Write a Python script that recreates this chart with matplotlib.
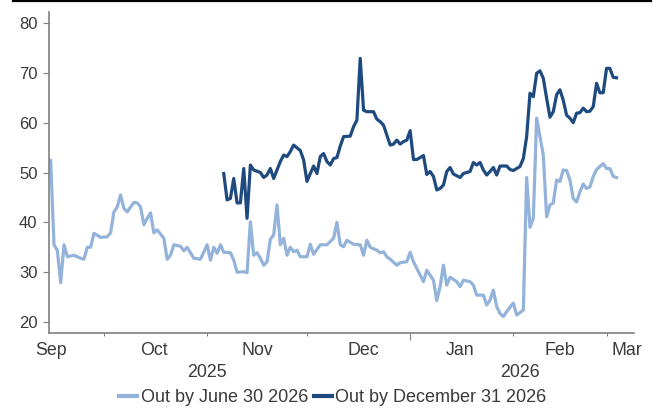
import pandas as pd
import matplotlib
matplotlib.use("Agg")
import matplotlib.pyplot as plt
from matplotlib.lines import Line2D

# Series data (daily readings)
june_dates = [
    "2025-09-15", "2025-09-16", "2025-09-17", "2025-09-18", "2025-09-19", "2025-09-20",
    "2025-09-22", "2025-09-23", "2025-09-24", "2025-09-25", "2025-09-26", "2025-09-27",
    "2025-09-28", "2025-09-30", "2025-10-02", "2025-10-03", "2025-10-04", "2025-10-05",
    "2025-10-06", "2025-10-07", "2025-10-08", "2025-10-10", "2025-10-11", "2025-10-12",
    "2025-10-13", "2025-10-14", "2025-10-15", "2025-10-16", "2025-10-17", "2025-10-19",
    "2025-10-20", "2025-10-21", "2025-10-22", "2025-10-24", "2025-10-25", "2025-10-26",
    "2025-10-28", "2025-10-30", "2025-11-01", "2025-11-02", "2025-11-03", "2025-11-04",
    "2025-11-05", "2025-11-06", "2025-11-08", "2025-11-09", "2025-11-10", "2025-11-12",
    "2025-11-13", "2025-11-14", "2025-11-15", "2025-11-16", "2025-11-17", "2025-11-18",
    "2025-11-19", "2025-11-20", "2025-11-21", "2025-11-22", "2025-11-23", "2025-11-24",
    "2025-11-25", "2025-11-26", "2025-11-27", "2025-11-28", "2025-11-29", "2025-12-01",
    "2025-12-02", "2025-12-03", "2025-12-05", "2025-12-07", "2025-12-09", "2025-12-10",
    "2025-12-11", "2025-12-12", "2025-12-13", "2025-12-15", "2025-12-17", "2025-12-18",
    "2025-12-19", "2025-12-20", "2025-12-22", "2025-12-23", "2025-12-24", "2025-12-25",
    "2025-12-26", "2025-12-28", "2025-12-29", "2025-12-31", "2026-01-01", "2026-01-02",
    "2026-01-04", "2026-01-05", "2026-01-06", "2026-01-07", "2026-01-08", "2026-01-09",
    "2026-01-10", "2026-01-11", "2026-01-12", "2026-01-13", "2026-01-15", "2026-01-16",
    "2026-01-17", "2026-01-19", "2026-01-20", "2026-01-21", "2026-01-23", "2026-01-24",
    "2026-01-25", "2026-01-26", "2026-01-27", "2026-01-28", "2026-01-29", "2026-01-30",
    "2026-02-01", "2026-02-02", "2026-02-04", "2026-02-05", "2026-02-06", "2026-02-07",
    "2026-02-08", "2026-02-09", "2026-02-10", "2026-02-11", "2026-02-12", "2026-02-13",
    "2026-02-14", "2026-02-15", "2026-02-16", "2026-02-17", "2026-02-18", "2026-02-19",
    "2026-02-20", "2026-02-21", "2026-02-22", "2026-02-23", "2026-02-24", "2026-02-25",
    "2026-02-26", "2026-02-28", "2026-03-01", "2026-03-02", "2026-03-03", "2026-03-04",
]
june_vals = [
    52.4, 35.5, 34.4, 27.9, 35.5, 33.1,
    33.4, 33.1, 32.8, 32.6, 35.0, 35.0,
    37.8, 37.0, 37.1, 37.9, 42.1, 43.1,
    45.5, 42.8, 42.1, 44.0, 43.9, 43.1,
    39.5, 40.8, 41.9, 37.9, 38.5, 36.8,
    32.6, 33.4, 35.5, 35.2, 34.3, 35.0,
    32.8, 32.6, 35.5, 32.4, 35.0, 33.8,
    35.5, 34.0, 33.9, 32.4, 30.0, 30.1,
    29.9, 40.1, 33.4, 33.9, 32.8, 31.4,
    32.1, 36.6, 37.5, 43.5, 35.5, 36.8,
    33.4, 35.0, 34.1, 34.4, 33.1, 33.1,
    35.6, 33.6, 35.5, 35.5, 36.8, 40.0,
    35.5, 35.1, 36.4, 35.6, 35.5, 33.4,
    36.4, 35.0, 34.4, 33.9, 34.1, 33.1,
    32.6, 31.4, 31.9, 32.1, 34.0, 32.1,
    29.4, 28.1, 30.4, 29.4, 28.4, 24.3,
    27.1, 31.4, 27.4, 29.0, 28.1, 27.1,
    28.4, 28.1, 27.4, 25.4, 25.4, 23.4,
    24.4, 26.4, 23.1, 21.7, 21.1, 22.1,
    23.8, 21.4, 22.4, 49.0, 39.0, 40.8,
    60.9, 57.2, 53.5, 41.1, 43.5, 43.9,
    48.5, 48.2, 50.5, 50.4, 48.5, 44.8,
    44.1, 46.1, 47.7, 46.8, 47.1, 49.2,
    50.6, 51.8, 50.8, 50.8, 49.2, 49.0,
]

dec_dates = [
    "2025-11-06", "2025-11-07", "2025-11-08", "2025-11-09", "2025-11-10", "2025-11-11",
    "2025-11-12", "2025-11-13", "2025-11-14", "2025-11-15", "2025-11-17", "2025-11-18",
    "2025-11-19", "2025-11-20", "2025-11-21", "2025-11-23", "2025-11-24", "2025-11-25",
    "2025-11-26", "2025-11-27", "2025-11-29", "2025-11-30", "2025-12-01", "2025-12-02",
    "2025-12-03", "2025-12-04", "2025-12-05", "2025-12-06", "2025-12-07", "2025-12-08",
    "2025-12-09", "2025-12-10", "2025-12-11", "2025-12-12", "2025-12-14", "2025-12-15",
    "2025-12-16", "2025-12-17", "2025-12-18", "2025-12-19", "2025-12-21", "2025-12-22",
    "2025-12-23", "2025-12-24", "2025-12-25", "2025-12-26", "2025-12-27", "2025-12-28",
    "2025-12-29", "2025-12-30", "2025-12-31", "2026-01-01", "2026-01-02", "2026-01-03",
    "2026-01-05", "2026-01-06", "2026-01-07", "2026-01-08", "2026-01-09", "2026-01-10",
    "2026-01-11", "2026-01-12", "2026-01-13", "2026-01-14", "2026-01-16", "2026-01-17",
    "2026-01-19", "2026-01-20", "2026-01-21", "2026-01-22", "2026-01-23", "2026-01-24",
    "2026-01-25", "2026-01-26", "2026-01-27", "2026-01-28", "2026-01-30", "2026-01-31",
    "2026-02-01", "2026-02-03", "2026-02-04", "2026-02-05", "2026-02-06", "2026-02-07",
    "2026-02-08", "2026-02-09", "2026-02-10", "2026-02-11", "2026-02-12", "2026-02-13",
    "2026-02-14", "2026-02-15", "2026-02-16", "2026-02-17", "2026-02-18", "2026-02-19",
    "2026-02-20", "2026-02-21", "2026-02-22", "2026-02-23", "2026-02-24", "2026-02-25",
    "2026-02-26", "2026-02-27", "2026-02-28", "2026-03-01", "2026-03-02", "2026-03-03",
    "2026-03-04",
]
dec_vals = [
    49.8, 44.5, 44.8, 48.8, 43.9, 43.9,
    50.8, 40.8, 51.5, 50.5, 50.0, 49.0,
    49.5, 50.8, 48.8, 52.2, 53.5, 53.2,
    54.2, 55.5, 54.4, 52.5, 48.2, 49.8,
    51.3, 49.8, 53.2, 53.8, 52.2, 51.5,
    52.8, 53.0, 55.3, 57.2, 57.3, 59.2,
    60.5, 72.9, 62.5, 62.2, 62.2, 60.7,
    60.2, 59.5, 57.5, 55.5, 55.7, 56.5,
    55.7, 56.2, 56.5, 58.4, 52.6, 52.6,
    53.4, 49.6, 50.2, 49.2, 46.5, 46.8,
    47.5, 50.2, 51.0, 49.7, 49.0, 49.8,
    50.2, 52.0, 51.5, 52.0, 50.5, 49.5,
    50.2, 51.0, 49.5, 51.3, 51.3, 50.6,
    50.4, 51.2, 52.8, 57.2, 65.9, 65.2,
    69.9, 70.4, 68.9, 64.9, 61.1, 62.2,
    65.6, 66.6, 64.5, 61.5, 60.9, 60.0,
    61.9, 62.0, 62.9, 62.2, 62.3, 63.2,
    67.9, 66.0, 66.0, 70.9, 70.9, 69.1,
    69.0,
]

series_names = ["Out by June 30 2026", "Out by December 31 2026"]
series_colors = ["#93b3db", "#1f4a80"]

month_starts = ["2025-10-01", "2025-11-01", "2025-12-01", "2026-01-01", "2026-02-01", "2026-03-01"]
month_names = ["Sep", "Oct", "Nov", "Dec", "Jan", "Feb", "Mar"]
month_label_at = ["2025-09-15", "2025-10-16", "2025-11-16", "2025-12-18", "2026-01-16", "2026-02-15", "2026-03-07"]
year_names = ["2025", "2026"]
year_label_at = ["2025-11-01", "2026-02-03"]

plt.rcParams["font.family"] = ["Liberation Sans", "DejaVu Sans"]
txt_color = "#3a3a3a"
axis_gray = "#7f7f7f"

fig = plt.figure(figsize=(6.59, 4.09), dpi=100)
ax = fig.add_axes([49 / 659, 1 - 333 / 409, (634 - 49) / 659, (333 - 12) / 409])

ax.plot(pd.to_datetime(june_dates), june_vals, color=series_colors[0], lw=2.3,
        label=series_names[0], solid_joinstyle="round")
ax.plot(pd.to_datetime(dec_dates), dec_vals, color=series_colors[1], lw=2.3,
        label=series_names[1], solid_joinstyle="round")

ax.set_xlim(pd.Timestamp("2025-09-14 12:00"), pd.Timestamp("2026-03-09 06:00"))
ax.set_ylim(17.8, 82.2)
ax.set_yticks(range(20, 81, 10))

for s in ["top", "right"]:
    ax.spines[s].set_visible(False)
for s in ["left", "bottom"]:
    ax.spines[s].set_color(axis_gray)
    ax.spines[s].set_linewidth(1.2)

ax.tick_params(axis="y", direction="out", length=4.3, width=0.8, color=axis_gray,
               labelsize=12, labelcolor=txt_color, pad=4)
ax.set_xticks(pd.to_datetime(month_starts))
ax.set_xticklabels([])
ax.tick_params(axis="x", direction="out", length=2.2, width=0.8, color=axis_gray)
# year boundary gets a longer tick
ax.xaxis.get_major_ticks()[3].tick1line.set_markersize(5)

xt = ax.get_xaxis_transform()
for name, d in zip(month_names, month_label_at):
    ax.text(pd.Timestamp(d), -0.053, name, transform=xt, ha="center", va="center",
            fontsize=12.8, color=txt_color)
for name, d in zip(year_names, year_label_at):
    ax.text(pd.Timestamp(d), -0.1215, name, transform=xt, ha="center", va="center",
            fontsize=12.8, color=txt_color)

leg = fig.legend(loc="center", bbox_to_anchor=(333 / 659, 11 / 409), ncol=2, frameon=False,
                 fontsize=13, handlelength=1.0, handletextpad=0.2, columnspacing=0.3,
                 labelcolor=txt_color)
for h in leg.get_lines():
    h.set_linewidth(3)

# heavy rule across the top edge
fig.add_artist(Line2D([13 / 659, 651 / 659], [1 - 1 / 409, 1 - 1 / 409],
                      color="black", lw=1.6, transform=fig.transFigure))

fig.savefig("out.png", dpi=100)
